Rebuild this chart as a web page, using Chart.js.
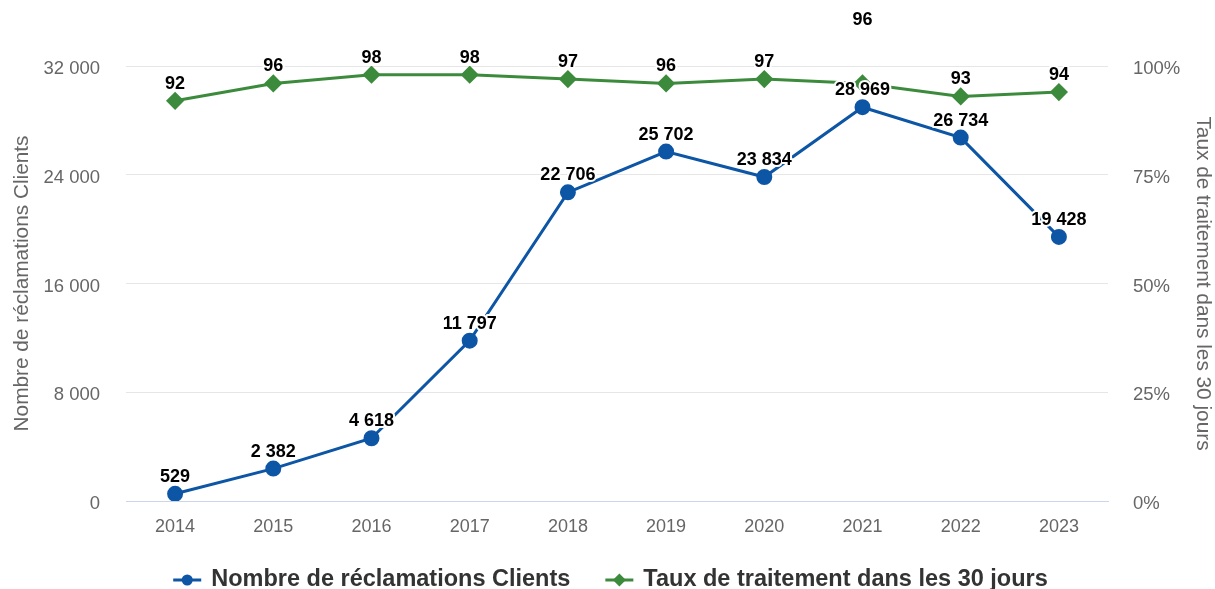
<!DOCTYPE html>
<html>
<head>
<meta charset="utf-8">
<script src="https://cdn.jsdelivr.net/npm/chart.js@4.4.1/dist/chart.umd.min.js"></script>
<style>
  html, body { margin: 0; padding: 0; background: #fff; }
  #wrap { width: 1215px; height: 589px; }
</style>
</head>
<body>
<div id="wrap"><canvas id="chart"></canvas></div>
<script>
const years = ['2014', '2015', '2016', '2017', '2018', '2019', '2020', '2021', '2022', '2023'];
const reclamations = [529, 2382, 4618, 11797, 22706, 25702, 23834, 28969, 26734, 19428];
const tauxTraitement = [92, 96, 98, 98, 97, 96, 97, 96, 93, 94];

const FONT = '"Liberation Sans", Arial, sans-serif';
const BLUE = '#0d55a5';
const GREEN = '#3c8b3c';

const fmt = (v) => String(v).replace(/\B(?=(\d{3})+(?!\d))/g, ' ');

// numbers above each point, white halo like the original
const valueLabels = {
    id: 'valueLabels',
    afterDatasetsDraw(chart) {
        const ctx = chart.ctx;
        ctx.save();
        ctx.font = 'bold 18px ' + FONT;
        ctx.textAlign = 'center';
        ctx.textBaseline = 'middle';
        ctx.lineJoin = 'round';
        chart.data.datasets.forEach((ds, i) => {
            const meta = chart.getDatasetMeta(i);
            meta.data.forEach((pt, j) => {
                const lift = (ds.labelLift && ds.labelLift[j]) || 17;
                const text = fmt(ds.data[j]);
                ctx.strokeStyle = '#fff';
                ctx.lineWidth = 4;
                ctx.strokeText(text, pt.x, pt.y - lift);
                ctx.fillStyle = '#000';
                ctx.fillText(text, pt.x, pt.y - lift);
            });
        });
        ctx.restore();
    }
};

// legend with a short line + marker symbol, centred under the chart
const lineLegend = {
    id: 'lineLegend',
    afterDraw(chart) {
        const ctx = chart.ctx;
        const iconW = 28, gapIcon = 10, gapItem = 35;
        const y = 580;
        ctx.save();
        ctx.font = 'bold 23.5px ' + FONT;
        ctx.textBaseline = 'middle';
        const items = chart.data.datasets.map(ds => ({ ds, w: ctx.measureText(ds.label).width }));
        let total = 0;
        items.forEach((it, i) => { total += iconW + gapIcon + it.w + (i ? gapItem : 0); });
        let x = (chart.width - total) / 2 + 3;
        items.forEach((it) => {
            const c = it.ds.borderColor;
            ctx.strokeStyle = c;
            ctx.fillStyle = c;
            ctx.lineWidth = 3;
            ctx.beginPath();
            ctx.moveTo(x, y);
            ctx.lineTo(x + iconW, y);
            ctx.stroke();
            const cx = x + iconW / 2;
            ctx.beginPath();
            if (it.ds.pointStyle === 'circle') {
                ctx.arc(cx, y, 5.5, 0, Math.PI * 2);
            } else {
                ctx.moveTo(cx, y - 6.5);
                ctx.lineTo(cx + 6.5, y);
                ctx.lineTo(cx, y + 6.5);
                ctx.lineTo(cx - 6.5, y);
                ctx.closePath();
            }
            ctx.fill();
            ctx.fillStyle = '#333';
            ctx.fillText(it.ds.label, x + iconW + gapIcon, y);
            x += iconW + gapIcon + it.w + gapItem;
        });
        ctx.restore();
    }
};

const ctx = document.getElementById('chart');
new Chart(ctx, {
    type: 'line',
    data: {
        labels: years,
        datasets: [{
            label: 'Nombre de réclamations Clients',
            data: reclamations,
            borderColor: BLUE,
            backgroundColor: BLUE,
            borderWidth: 3,
            pointRadius: 6.5,
            pointHoverRadius: 6.5,
            pointStyle: 'circle',
            yAxisID: 'y'
        },
        {
            label: 'Taux de traitement dans les 30 jours',
            data: tauxTraitement,
            borderColor: GREEN,
            backgroundColor: GREEN,
            borderWidth: 3,
            pointRadius: 7,
            pointHoverRadius: 7,
            pointStyle: 'rectRot',
            labelLift: [0, 0, 0, 0, 0, 0, 0, 63, 0, 0],
            yAxisID: 'y1'
        }]
    },
    options: {
        responsive: true,
        maintainAspectRatio: false,
        animation: false,
        layout: { padding: { top: 66, left: 10, right: 0, bottom: 48 } },
        plugins: {
            tooltip: { enabled: false },
            legend: { display: false }
        },
        scales: {
            x: {
                offset: true,
                grid: { display: false },
                border: { color: '#ccd6eb', width: 1 },
                ticks: { color: '#666', font: { family: FONT, size: 18 }, padding: 7 },
                afterFit: (s) => { s.height = 40; }
            },
            y: {
                position: 'left',
                min: 0,
                max: 32000,
                grid: {
                    color: (c) => c.tick.value === 0 ? '#ccd6eb' : '#e6e6e6',
                    drawTicks: false
                },
                border: { display: false },
                ticks: {
                    stepSize: 8000,
                    padding: 26,
                    labelOffset: 3,
                    color: '#666',
                    font: { family: FONT, size: 18.5 },
                    callback: (v) => fmt(v)
                },
                title: {
                    display: true,
                    text: 'Nombre de réclamations Clients',
                    color: '#666',
                    font: { family: FONT, size: 20.8 },
                    padding: { top: 0, bottom: 6 }
                },
                afterFit: (s) => { s.width = 116; }
            },
            y1: {
                position: 'right',
                min: 0,
                max: 100,
                grid: { drawOnChartArea: false, drawTicks: false },
                border: { display: false },
                ticks: {
                    stepSize: 25,
                    padding: 25,
                    labelOffset: 3,
                    color: '#666',
                    font: { family: FONT, size: 18.5 },
                    callback: (v) => v + '%'
                },
                title: {
                    display: true,
                    text: 'Taux de traitement dans les 30 jours',
                    color: '#666',
                    font: { family: FONT, size: 20.8 },
                    padding: { top: 0, bottom: 6 }
                },
                afterFit: (s) => { s.width = 107; }
            }
        }
    },
    plugins: [valueLabels, lineLegend]
});
</script>
</body>
</html>
